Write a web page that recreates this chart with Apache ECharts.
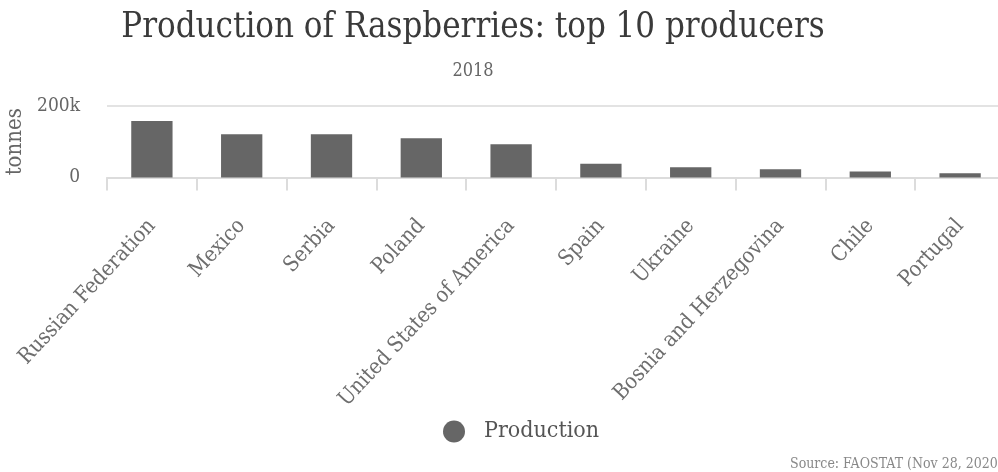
<!DOCTYPE html>
<html><head><meta charset="utf-8">
<script src="https://cdn.jsdelivr.net/npm/echarts@6/dist/echarts.min.js"></script>
<style>html,body{margin:0;padding:0;background:#fff}#c{width:998px;height:472px}</style>
</head><body><div id="c"></div>
<script>
const categories = ["Russian Federation","Mexico","Serbia","Poland","United States of America","Spain","Ukraine","Bosnia and Herzegovina","Chile","Portugal"];
const production = [158000,121000,121000,110000,93000,38600,28500,23000,17000,12000];
const yTicks = [0,200000];
const titleText = "Production of Raspberries: top 10 producers";
const subtitleText = "2018";
const sourceText = "Source: FAOSTAT (Nov 28, 2020)";
const FF = "'DejaVu Serif Condensed','DejaVu Serif',serif";
const chart = echarts.init(document.getElementById('c'));
chart.setOption({
  animation:false,
  textStyle:{fontFamily:FF},
  title:{text:titleText,subtext:subtitleText,left:468,textAlign:'center',top:6,itemGap:16,
    textStyle:{fontFamily:FF,fontSize:34.5,fontWeight:'normal',color:'#3a3a3a'},
    subtextStyle:{fontFamily:FF,fontSize:18,color:'#666'}},
  grid:{left:107,width:898,top:106,bottom:294.5,containLabel:false,outerBoundsMode:'none'},
  legend:{bottom:24,left:438,icon:'circle',itemWidth:22,itemHeight:22,itemGap:10,
    textStyle:{fontFamily:FF,fontSize:23,color:'#555',padding:[0,0,0,14]},data:['Production']},
  xAxis:{type:'category',data:categories,
    axisLine:{lineStyle:{color:'#dcdcdc',width:2}},
    axisTick:{show:true,length:13,lineStyle:{color:'#dcdcdc',width:2}},
    axisLabel:{rotate:47,interval:0,margin:45,fontFamily:FF,fontSize:21.5,color:'#6e6e6e'}},
  yAxis:{type:'value',min:yTicks[0],max:yTicks[1],interval:200000,
    name:'tonnes',nameLocation:'middle',nameGap:74,nameRotate:90,
    nameTextStyle:{fontFamily:FF,fontSize:22,color:'#666'},
    axisLine:{show:false},axisTick:{show:false},
    splitLine:{lineStyle:{color:'#e3e3e3',width:2}},
    axisLabel:{margin:27,fontFamily:FF,fontSize:19,color:'#666',
      formatter:v=>v===0?'0':(v/1000)+'k'}},
  series:[{name:'Production',type:'bar',data:production,barWidth:'46%',
    itemStyle:{color:'#666666'}}],
  graphic:[{type:'text',left:790,top:457,style:{text:sourceText,fontFamily:FF,fontSize:14,fill:'#888'}}]
});
</script></body></html>
